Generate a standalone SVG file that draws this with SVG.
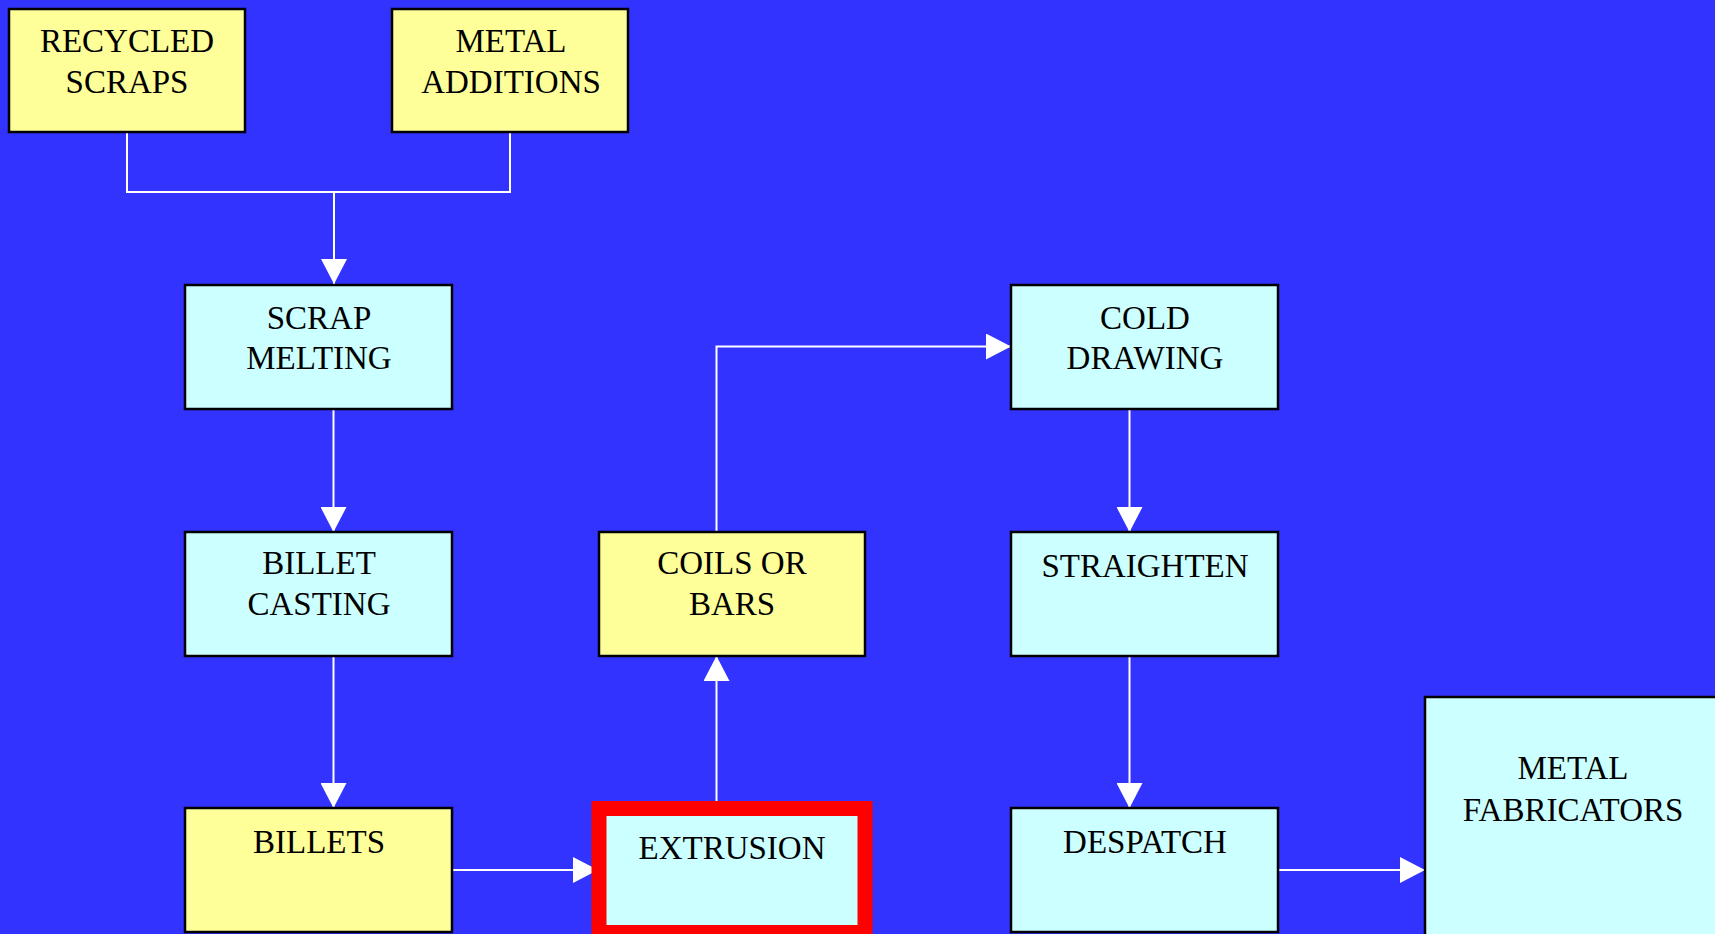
<svg xmlns="http://www.w3.org/2000/svg" width="1715" height="934" viewBox="0 0 1715 934">
<style>
.box{stroke:#000;stroke-width:2.5}
.y{fill:#FFFF99}
.c{fill:#CCFFFF}
.t{font-family:"Liberation Serif","Times New Roman",serif;font-size:33px;fill:#000;text-anchor:middle}
.ln{fill:none;stroke:#fff;stroke-width:2}
</style>
<defs>
<marker id="ah" markerUnits="userSpaceOnUse" markerWidth="26" markerHeight="26" refX="25" refY="13" orient="auto">
<path d="M0,0 L25,13 L0,26 z" fill="#fff"/>
</marker>
</defs>
<rect width="1715" height="934" fill="#3333FF"/>
<g id="connectors">
<path class="ln" d="M127,132 V192 H510 V132"/>
<path class="ln" d="M334,192 V284" marker-end="url(#ah)"/>
<path class="ln" d="M333.5,409 V532" marker-end="url(#ah)"/>
<path class="ln" d="M333.5,656 V808" marker-end="url(#ah)"/>
<path class="ln" d="M452,870 H598" marker-end="url(#ah)"/>
<path class="ln" d="M716.5,810 V656" marker-end="url(#ah)"/>
<path class="ln" d="M716.5,532 V346.5 H1011" marker-end="url(#ah)"/>
<path class="ln" d="M1129.5,409 V532" marker-end="url(#ah)"/>
<path class="ln" d="M1129.5,656 V808" marker-end="url(#ah)"/>
<path class="ln" d="M1278,870 H1425" marker-end="url(#ah)"/>
</g>
<g id="recycled-scraps">
<rect class="box y" x="9" y="9" width="236" height="123"/>
<text class="t" x="127" y="52">RECYCLED</text>
<text class="t" x="127" y="93">SCRAPS</text>
</g>
<g id="metal-additions">
<rect class="box y" x="392" y="9" width="236" height="123"/>
<text class="t" x="511" y="52">METAL</text>
<text class="t" x="511" y="93">ADDITIONS</text>
</g>
<g id="scrap-melting">
<rect class="box c" x="185" y="285" width="267" height="124"/>
<text class="t" x="319" y="329">SCRAP</text>
<text class="t" x="319" y="369">MELTING</text>
</g>
<g id="billet-casting">
<rect class="box c" x="185" y="532" width="267" height="124"/>
<text class="t" x="319" y="574">BILLET</text>
<text class="t" x="319" y="615">CASTING</text>
</g>
<g id="billets">
<rect class="box y" x="185" y="808" width="267" height="124"/>
<text class="t" x="319" y="853">BILLETS</text>
</g>
<g id="extrusion">
<rect x="599" y="808.5" width="266" height="124" fill="#CCFFFF" stroke="#FF0000" stroke-width="15"/>
<text class="t" x="732" y="859">EXTRUSION</text>
</g>
<g id="coils-or-bars">
<rect class="box y" x="599" y="532" width="266" height="124"/>
<text class="t" x="732" y="574">COILS OR</text>
<text class="t" x="732" y="615">BARS</text>
</g>
<g id="cold-drawing">
<rect class="box c" x="1011" y="285" width="267" height="124"/>
<text class="t" x="1145" y="329">COLD</text>
<text class="t" x="1145" y="369">DRAWING</text>
</g>
<g id="straighten">
<rect class="box c" x="1011" y="532" width="267" height="124"/>
<text class="t" x="1145" y="577">STRAIGHTEN</text>
</g>
<g id="despatch">
<rect class="box c" x="1011" y="808" width="267" height="124"/>
<text class="t" x="1145" y="853">DESPATCH</text>
</g>
<g id="metal-fabricators">
<rect class="box c" x="1425" y="697" width="300" height="240"/>
<text class="t" x="1573" y="779">METAL</text>
<text class="t" x="1573" y="821">FABRICATORS</text>
</g>
</svg>
